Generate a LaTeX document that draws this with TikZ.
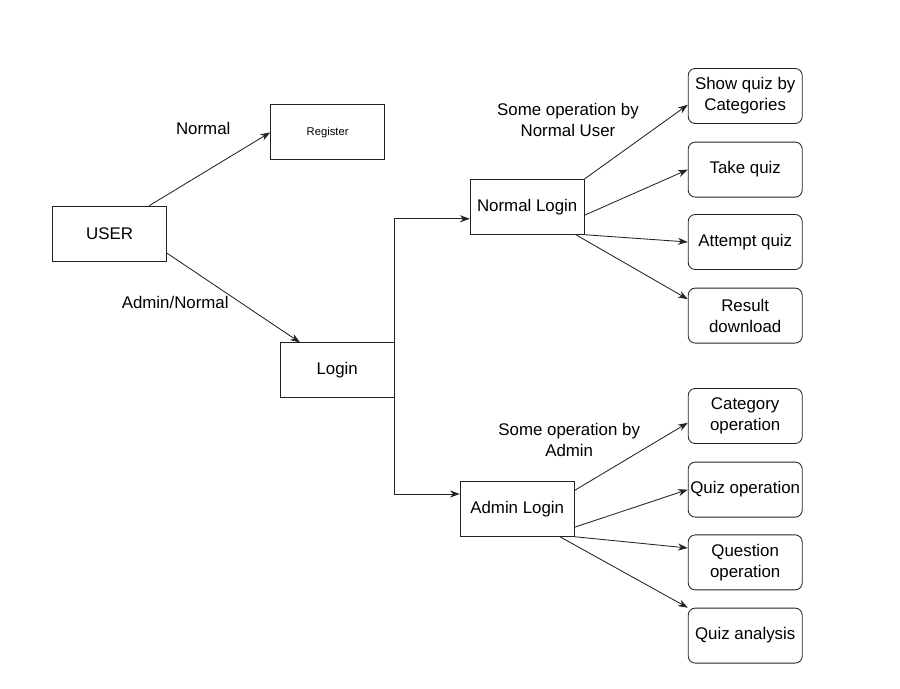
\documentclass[tikz,border=0pt]{standalone}
\usepackage{fontspec}
\setmainfont{Liberation Sans}
\usepackage{xcolor}
\usetikzlibrary{arrows.meta,positioning}
\definecolor{lineblack}{HTML}{222222}

\tikzset{
  plainbox/.style={draw=lineblack, line width=0.6pt, minimum width=2.85cm,
    minimum height=1.375cm, inner xsep=1pt, align=center},
  opbox/.style={plainbox, rounded corners=5pt},
  link/.style={-{Stealth[length=7pt,width=5pt]}, draw=lineblack, line width=0.6pt},
}

\begin{document}
\begin{tikzpicture}[font=\fontsize{12}{15}\selectfont]

  \useasboundingbox (0,0) rectangle (22.5,17.2);

  % ================= LEFT: USER, REGISTER, LOGIN =================
  \node[plainbox] (user) at (2.74, 11.36) {USER};
  \node[plainbox, font=\fontsize{8}{10}\selectfont] (register) at (8.19, 13.89) {Register};
  \node[plainbox] (login) at (8.43, 7.94) {Login};

  \draw[link] ([xshift=0.99cm]user.north) -- (register.west);
  \draw[link] ([yshift=-0.49cm]user.east) -- ([xshift=-0.93cm]login.north);

  \node (lblnormal) at (5.08, 13.98) {Normal};
  \node (lbladmin) at (4.38, 9.65) {Admin/Normal};

  % ================= MIDDLE: LOGIN BRANCHES =================
  \node[plainbox] (nlogin) at (13.18, 12.03) {Normal Login};
  \node[plainbox] (alogin) at (12.93, 4.48) {Admin Login};

  \coordinate (nlin) at ([yshift=-0.3cm]nlogin.west);
  \coordinate (alin) at ([yshift=0.37cm]alogin.west);
  \draw[link] (login.east) |- (nlin);
  \draw[link] (login.east) |- (alin);

  % ================= RIGHT: NORMAL USER OPERATIONS =================
  \node[opbox] (showquiz) at (18.63, 14.8) {Show quiz by\\Categories};
  \node[opbox] (takequiz) at (18.63, 12.96) {Take quiz};
  \node[opbox] (attemptquiz) at (18.63, 11.15) {Attempt quiz};
  \node[opbox] (resultdl) at (18.63, 9.31) {Result\\download};

  \node[align=center] (lblnuser) at (14.2, 14.2) {Some operation by\\Normal User};

  \draw[link] (nlogin.north east) -- ([yshift=-0.22cm]showquiz.west);
  \draw[link] ([yshift=-0.21cm]nlogin.east) -- (takequiz.west);
  \draw[link] (nlogin.south east) -- (attemptquiz.west);
  \draw[link] ([xshift=-0.22cm]nlogin.south east) -- ([yshift=0.41cm]resultdl.west);

  % ================= RIGHT: ADMIN OPERATIONS =================
  \node[opbox] (catop) at (18.63, 6.8) {Category\\operation};
  \node[opbox] (quizop) at (18.63, 4.96) {Quiz operation};
  \node[opbox] (questop) at (18.63, 3.14) {Question\\operation};
  \node[opbox] (quizan) at (18.63, 1.31) {Quiz analysis};

  \node[align=center] (lbladminop) at (14.23, 6.2) {Some operation by\\Admin};

  \draw[link] ([yshift=0.46cm]alogin.east) -- ([yshift=-0.17cm]catop.west);
  \draw[link] ([yshift=-0.46cm]alogin.east) -- (quizop.west);
  \draw[link] (alogin.south east) -- ([yshift=0.36cm]questop.west);
  \draw[link] ([xshift=-0.37cm]alogin.south east) -- (quizan.north west);

\end{tikzpicture}
\end{document}
